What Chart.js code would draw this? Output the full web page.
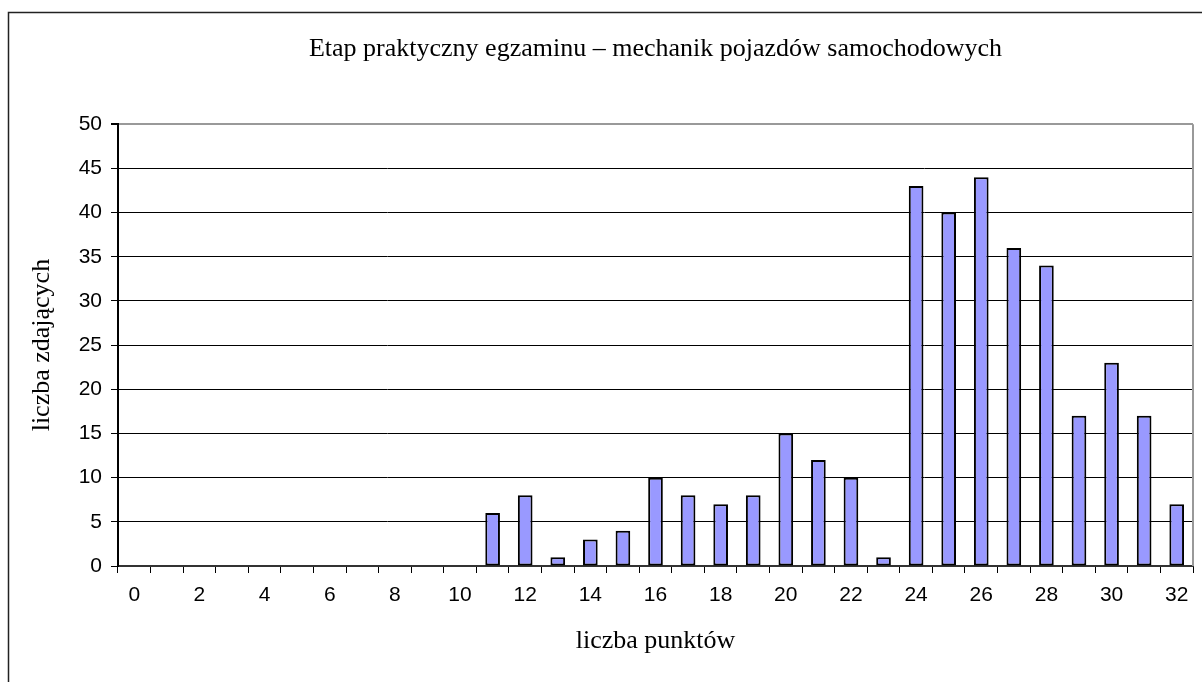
<!DOCTYPE html>
<html>
<head>
    <title>Etap praktyczny egzaminu</title>
    <script src="https://cdn.jsdelivr.net/npm/chart.js"></script>
    <style>
        body { margin: 0; background: #fff; }
        #wrap { width: 1202px; height: 682px; }
    </style>
</head>
<body>
    <div id="wrap"><canvas id="chart" width="1202" height="682"></canvas></div>

    <script>
        const punkty = [0, 1, 2, 3, 4, 5, 6, 7, 8, 9, 10, 11, 12, 13, 14, 15, 16,
                        17, 18, 19, 20, 21, 22, 23, 24, 25, 26, 27, 28, 29, 30, 31, 32];
        const zdajacy = [0, 0, 0, 0, 0, 0, 0, 0, 0, 0, 0, 6, 8, 1, 3, 4, 10,
                         8, 7, 8, 15, 12, 10, 1, 43, 40, 44, 36, 34, 17, 23, 17, 7];
        const yTicks = [0, 5, 10, 15, 20, 25, 30, 35, 40, 45, 50];

        // outer frame + grey plot border on the right
        const frame = {
            id: 'frame',
            beforeDraw(chart) {
                const ctx = chart.ctx;
                ctx.save();
                ctx.fillStyle = '#fff';
                ctx.fillRect(0, 0, chart.width, chart.height);
                ctx.strokeStyle = '#222';
                ctx.lineWidth = 1.5;
                ctx.strokeRect(8.5, 12.5, 1400, 900);
                ctx.restore();
            },
            afterDraw(chart) {
                const a = chart.chartArea;
                const ctx = chart.ctx;
                ctx.save();
                ctx.strokeStyle = '#999';
                ctx.lineWidth = 2;
                ctx.beginPath();
                ctx.moveTo(a.right, a.top);
                ctx.lineTo(a.right, a.bottom);
                ctx.stroke();
                ctx.restore();
            }
        };

        new Chart(document.getElementById('chart'), {
            type: 'bar',
            data: {
                labels: punkty,
                datasets: [{
                    data: zdajacy,
                    backgroundColor: '#9999ff',
                    borderColor: '#000',
                    borderWidth: c => (c.raw ? 2 : 0),
                    borderSkipped: false,
                    barPercentage: 0.45,
                    categoryPercentage: 1
                }]
            },
            options: {
                responsive: false,
                animation: false,
                layout: { padding: { left: 10, right: 9, top: 0, bottom: 0 } },
                plugins: {
                    legend: { display: false },
                    tooltip: { enabled: false },
                    title: {
                        display: true,
                        fullSize: false,
                        text: 'Etap praktyczny egzaminu – mechanik pojazdów samochodowych',
                        color: '#000',
                        font: { family: 'Liberation Serif', size: 26, weight: 'normal' },
                        padding: { top: 34, bottom: 59 }
                    }
                },
                scales: {
                    x: {
                        grid: {
                            offset: true,
                            drawOnChartArea: false,
                            tickLength: 7,
                            color: '#000'
                        },
                        border: { color: '#333', width: 2 },
                        ticks: {
                            autoSkip: false,
                            maxRotation: 0,
                            padding: 10,
                            color: '#000',
                            font: { family: 'Liberation Sans', size: 21 },
                            callback: (v, i) => (punkty[i] % 2 === 0 ? punkty[i] : '')
                        },
                        title: {
                            display: true,
                            text: 'liczba punktów',
                            color: '#000',
                            font: { family: 'Liberation Serif', size: 26 },
                            padding: { top: 10, bottom: 25 }
                        },
                        afterFit: s => { s.height = 116; }
                    },
                    y: {
                        min: 0,
                        max: 50,
                        afterBuildTicks: s => { s.ticks = yTicks.map(v => ({ value: v })); },
                        grid: {
                            color: c => (c.tick && c.tick.value === 50 ? '#999' : '#000'),
                            lineWidth: c => (c.tick && c.tick.value === 50 ? 2 : 1),
                            tickColor: '#000',
                            tickLength: 7
                        },
                        border: { color: '#000', width: 2 },
                        ticks: {
                            padding: 9,
                            color: '#000',
                            font: { family: 'Liberation Sans', size: 21 }
                        },
                        title: {
                            display: true,
                            text: 'liczba zdających',
                            color: '#000',
                            font: { family: 'Liberation Serif', size: 26 },
                            padding: { top: 17, bottom: 10 }
                        },
                        afterFit: s => { s.width = 108; }
                    }
                }
            },
            plugins: [frame]
        });
    </script>
</body>
</html>
